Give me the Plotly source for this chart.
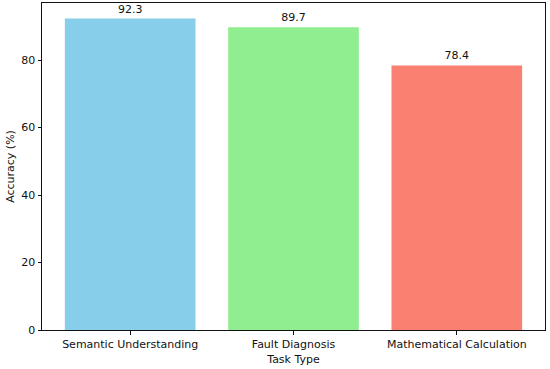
import plotly.graph_objects as go

categories = ["Semantic Understanding", "Fault Diagnosis", "Mathematical Calculation"]
accuracy = [92.3, 89.7, 78.4]
colors = ["#87CEEB", "#90EE90", "#FA8072"]
y_ticks = [0, 20, 40, 60, 80]

fig = go.Figure()
fig.add_trace(go.Bar(
    x=list(range(len(categories))), y=accuracy, width=0.8,
    marker=dict(color=colors, line=dict(width=0)),
    text=[f"{v:.1f}" for v in accuracy], textposition="outside",
    textfont=dict(size=11, color="#111"), cliponaxis=False,
))
fig.update_layout(
    width=550, height=369,
    margin=dict(l=42, r=5, t=3, b=39),
    plot_bgcolor="white", paper_bgcolor="white",
    font=dict(family="DejaVu Sans", size=11, color="#111"),
    showlegend=False,
    xaxis=dict(range=[-0.54, 2.54], tickvals=list(range(len(categories))), ticktext=categories,
               showgrid=False, zeroline=False, showline=True, linecolor="#111", linewidth=1,
               mirror=True, ticks="outside", ticklen=3.5, tickcolor="#111",
               title=dict(text="Task Type", standoff=5, font=dict(size=11))),
    yaxis=dict(range=[0, 96.9], tickvals=y_ticks, showgrid=False, zeroline=False,
               showline=True, linecolor="#111", linewidth=1, mirror=True,
               ticks="outside", ticklen=3.5, tickcolor="#111",
               title=dict(text="Accuracy (%)", standoff=4, font=dict(size=11))),
)
fig.write_html("out.html", config={"displayModeBar": False},
               post_script="document.body.style.margin='0';document.body.style.padding='0';")
